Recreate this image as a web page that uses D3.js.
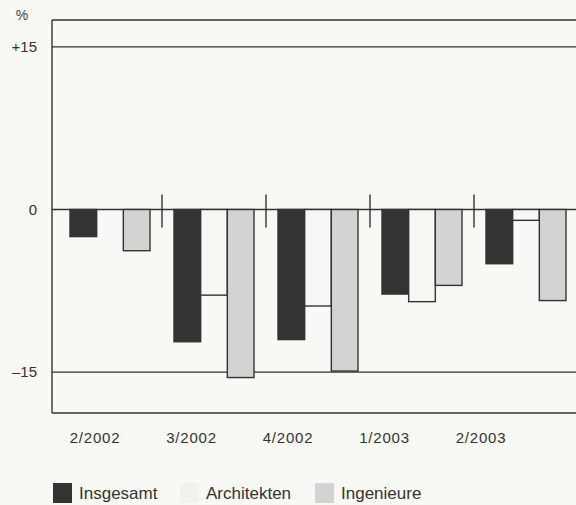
<!DOCTYPE html>
<html>
<head>
<meta charset="utf-8">
<script src="https://cdn.jsdelivr.net/npm/d3@7"></script>
<style>
  body { margin: 0; background: #f8f8f4; }
  svg { display: block; font-family: "Liberation Sans", Arial, sans-serif; }
</style>
</head>
<body>
<svg width="576" height="505"></svg>
<script>
// Data
const quarters = ["2/2002", "3/2002", "4/2002", "1/2003", "2/2003"];
const series = ["Insgesamt", "Architekten", "Ingenieure"];
const insgesamt = [-2.5, -12.2, -12.0, -7.8, -5.0];
const architekten = [0, -7.9, -8.9, -8.5, -1.0];
const ingenieure = [-3.8, -15.5, -14.9, -7.0, -8.4];
const yTicks = [15, 0, -15];
const yTickLabels = ["+15", "0", "\u201315"];

const values = [insgesamt, architekten, ingenieure];
const colors = ["#333331", "#f6f6f2", "#d3d3d1"];

const svg = d3.select("svg");

// Scales
const y = d3.scaleLinear()
    .domain([-18.77, 17.48])
    .range([413, 20]);

const x0 = d3.scaleBand()
    .domain(quarters)
    .range([58, 578])
    .paddingInner(0.2308)
    .paddingOuter(0.1154);

const x1 = d3.scaleBand()
    .domain(series)
    .range([0, x0.bandwidth()]);

// label positions are offset from the groups in the original
const xLabel = d3.scalePoint()
    .domain(quarters)
    .range([95, 481]);

// Frame
svg.append("line")
    .attr("x1", 52).attr("x2", 52)
    .attr("y1", y.range()[1]).attr("y2", y.range()[0])
    .attr("stroke", "#333").attr("stroke-width", 1.4);
svg.append("line")
    .attr("x1", 52).attr("x2", 576)
    .attr("y1", y.range()[1]).attr("y2", y.range()[1])
    .attr("stroke", "#333").attr("stroke-width", 1.4);
svg.append("line")
    .attr("x1", 52).attr("x2", 576)
    .attr("y1", y.range()[0]).attr("y2", y.range()[0])
    .attr("stroke", "#333").attr("stroke-width", 1.4);

// Gridlines and y labels
yTicks.forEach((t, i) => {
    svg.append("line")
        .attr("x1", 52).attr("x2", 576)
        .attr("y1", y(t)).attr("y2", y(t))
        .attr("stroke", "#333").attr("stroke-width", 1.4);
    svg.append("text")
        .attr("x", 37)
        .attr("y", y(t))
        .attr("dy", "0.35em")
        .attr("text-anchor", "end")
        .attr("font-size", 15)
        .attr("fill", "#333")
        .text(yTickLabels[i]);
});

svg.append("text")
    .attr("x", 22).attr("y", 20)
    .attr("text-anchor", "middle")
    .attr("font-size", 14)
    .attr("fill", "#444")
    .text("%");

// Bars
quarters.forEach((q, qi) => {
    series.forEach((s, si) => {
        const v = values[si][qi];
        if (v === 0) return;
        svg.append("rect")
            .attr("x", x0(q) + x1(s))
            .attr("y", y(Math.max(0, v)))
            .attr("width", x1.bandwidth())
            .attr("height", Math.abs(y(v) - y(0)))
            .attr("fill", colors[si])
            .attr("stroke", "#333")
            .attr("stroke-width", 1.4);
    });
});

// Separators between groups
quarters.slice(1).forEach(q => {
    const sx = x0(q) - x0.step() * x0.paddingInner() / 2;
    svg.append("line")
        .attr("x1", sx).attr("x2", sx)
        .attr("y1", y(0) - 15).attr("y2", y(0) + 18)
        .attr("stroke", "#333").attr("stroke-width", 1.4);
});

// X labels
quarters.forEach(q => {
    svg.append("text")
        .attr("x", xLabel(q))
        .attr("y", 443)
        .attr("text-anchor", "middle")
        .attr("font-size", 15)
        .attr("letter-spacing", 0.8)
        .attr("fill", "#333")
        .text(q);
});

// Legend
const legendX = [53, 180, 315];
series.forEach((s, i) => {
    svg.append("rect")
        .attr("x", legendX[i]).attr("y", 483)
        .attr("width", 19).attr("height", 20)
        .attr("fill", i === 1 ? "#f1f1ed" : colors[i]);
    svg.append("text")
        .attr("x", legendX[i] + 26)
        .attr("y", 499)
        .attr("font-size", 17)
        .attr("fill", "#333")
        .text(s);
});
</script>
</body>
</html>
